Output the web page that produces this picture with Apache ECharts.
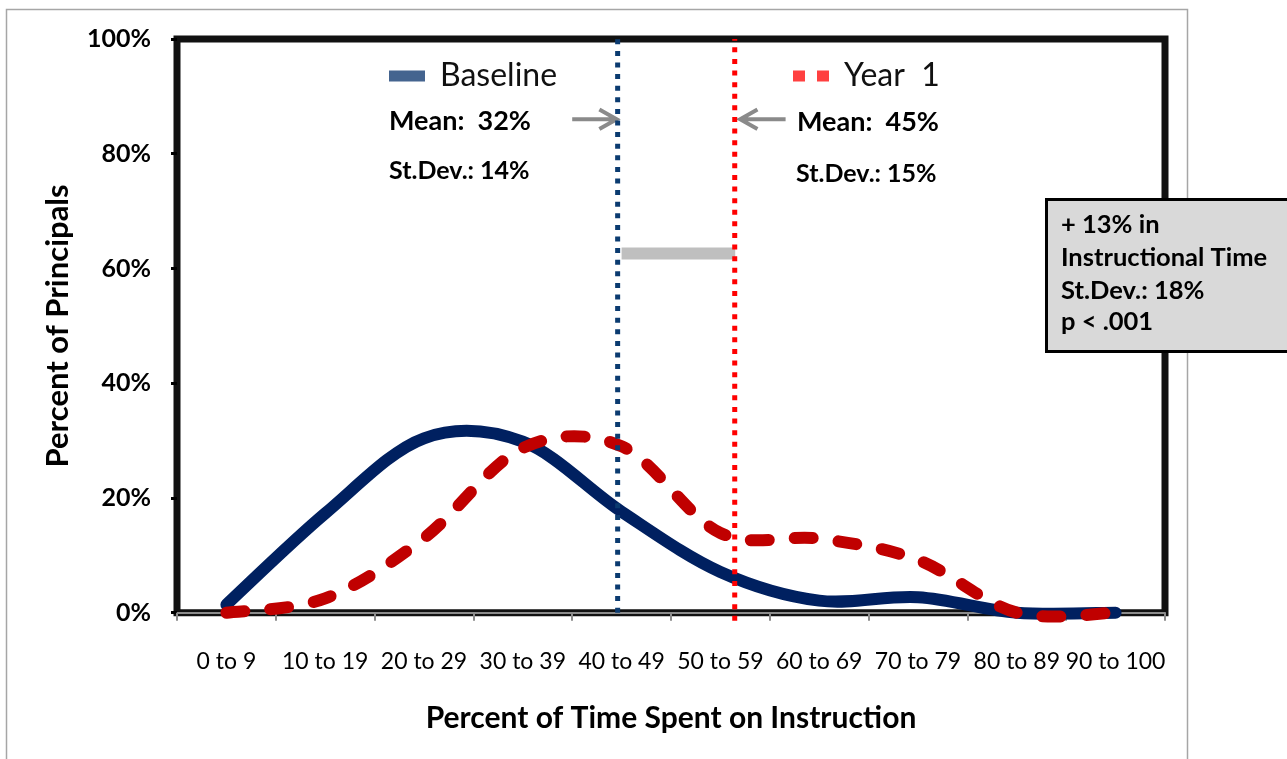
<!DOCTYPE html>
<html>
<head>
<meta charset="utf-8">
<style>
  html, body { margin: 0; padding: 0; background: #fff; }
  #chart { width: 1287px; height: 759px; }
</style>
<script src="https://cdn.jsdelivr.net/npm/echarts@6/dist/echarts.min.js"></script>
</head>
<body>
<div id="chart"></div>
<script>
// ---- data ----
const categories = ['0 to 9', '10 to 19', '20 to 29', '30 to 39', '40 to 49',
                    '50 to 59', '60 to 69', '70 to 79', '80 to 89', '90 to 100'];
const baseline = [1.4, 17.3, 30.4, 29.8, 17.6, 7.1, 2.1, 2.7, 0, 0];
const year1    = [0, 2.5, 13.0, 28.7, 29.0, 13.9, 12.9, 9.2, 0, 0];
const yTicks   = [0, 20, 40, 60, 80, 100];
// annotation anchors on a hidden 0-100 horizontal scale
const meanLinePos = [44.6, 56.45];       // baseline mean line, year 1 mean line
const gapBar      = [45.0, 56.5, 62.6];  // from, to, level
const arrowLevel  = 86;
const arrowLeft   = [40.0, 44.5];        // tail, tip
const arrowRight  = [61.6, 57.0];        // tail, tip

const chart = echarts.init(document.getElementById('chart'), null, { renderer: 'canvas' });

function arrowData(tail, tip, level) {
  const dir = tip > tail ? 1 : -1;
  const back = tip - dir * 1.75;
  return [[tail, level], [tip, level], '-', [back, level + 1.7], [tip, level], [back, level - 1.7]];
}

// Smoothed line (Excel-style cardinal spline) drawn through the axis scales
function smoothRenderer(values, style) {
  return function (params, api) {
    if (params.dataIndex !== 0) return null;
    const p = values.map((v, i) => api.coord([i, v]));
    const n = p.length;
    let d = 'M' + p[0][0] + ',' + p[0][1];
    for (let i = 0; i < n - 1; i++) {
      const p0 = p[Math.max(i - 1, 0)], p1 = p[i], p2 = p[i + 1], p3 = p[Math.min(i + 2, n - 1)];
      const c1x = p1[0] + (p2[0] - p0[0]) / 6, c1y = p1[1] + (p2[1] - p0[1]) / 6;
      const c2x = p2[0] - (p3[0] - p1[0]) / 6, c2y = p2[1] - (p3[1] - p1[1]) / 6;
      d += ' C' + c1x + ',' + c1y + ' ' + c2x + ',' + c2y + ' ' + p2[0] + ',' + p2[1];
    }
    return {
      type: 'path',
      shape: { pathData: d },
      style: Object.assign({ fill: null }, style)
    };
  };
}

const FONT = 'Lato, "Noto Sans", sans-serif';

const option = {
  animation: false,
  backgroundColor: '#ffffff',
  grid: {
    left: 177, top: 39, width: 988, height: 573.7,
    show: true, borderColor: '#111111', borderWidth: 7, backgroundColor: 'transparent'
  },
  legend: [
    {
      left: 389, top: 60, padding: 0, selectedMode: false,
      itemWidth: 36, itemHeight: 11,
      textStyle: { fontFamily: FONT, fontSize: 32, color: '#111', padding: [0, 0, 0, 10] },
      data: [{ name: 'Baseline', icon: 'rect', itemStyle: { color: '#44648f' } }]
    },
    {
      left: 793, top: 60, padding: 0, selectedMode: false,
      itemWidth: 36, itemHeight: 11,
      textStyle: { fontFamily: FONT, fontSize: 32, color: '#111', padding: [0, 0, 0, 10] },
      data: [{ name: 'Year  1', icon: 'path://M0,0H12V11H0Z M24,0H36V11H24Z', itemStyle: { color: '#ff4040' } }]
    }
  ],
  xAxis: [
    {
      type: 'category', data: categories, boundaryGap: true, offset: 4,
      axisLine: { show: true, lineStyle: { color: '#8c8c8c', width: 2 } },
      axisTick: { show: true, length: 8, lineStyle: { color: '#8c8c8c', width: 2 } },
      axisLabel: { fontFamily: FONT, fontSize: 23, color: '#000', margin: 33, interval: 0 },
      splitLine: { show: false },
      name: 'Percent of Time Spent on Instruction', nameLocation: 'middle', nameGap: 87,
      nameTextStyle: { fontFamily: FONT, fontWeight: 'bold', fontSize: 30, color: '#000' }
    },
    { type: 'value', min: 0, max: 100, show: false }
  ],
  yAxis: {
    type: 'value', min: yTicks[0], max: yTicks[yTicks.length - 1], interval: yTicks[1] - yTicks[0],
    axisLine: { show: false },
    axisTick: { show: true, length: 6, lineStyle: { color: '#000', width: 3 } },
    axisLabel: { formatter: '{value}%', fontFamily: FONT, fontWeight: 'bold', fontSize: 25, color: '#000', margin: 26 },
    splitLine: { show: false },
    name: 'Percent of Principals', nameLocation: 'middle', nameGap: 104,
    nameTextStyle: { fontFamily: FONT, fontWeight: 'bold', fontSize: 31, color: '#000' }
  },
  series: [
    {
      name: 'Baseline', type: 'custom', z: 3, silent: true,
      data: baseline.map((v, i) => [i, v]), encode: { x: 0, y: 1 },
      itemStyle: { color: '#002060' },
      renderItem: smoothRenderer(baseline, { stroke: '#002060', lineWidth: 12, lineCap: 'round', lineJoin: 'round' })
    },
    {
      name: 'Year  1', type: 'custom', z: 3, silent: true,
      data: year1.map((v, i) => [i, v]), encode: { x: 0, y: 1 },
      itemStyle: { color: '#c00000' },
      renderItem: smoothRenderer(year1, { stroke: '#c00000', lineWidth: 12, lineCap: 'round', lineJoin: 'round', lineDash: [18, 26] })
    },
    {
      name: 'gap', type: 'line', xAxisIndex: 1, silent: true, symbol: 'none', z: 4,
      data: [[gapBar[0], gapBar[2]], [gapBar[1], gapBar[2]]],
      lineStyle: { color: '#bfbfbf', width: 12, cap: 'butt' }
    },
    {
      name: 'meanBase', type: 'line', xAxisIndex: 1, silent: true, symbol: 'none', z: 6, clip: false,
      data: [[meanLinePos[0], 0], [meanLinePos[0], 100]],
      lineStyle: { color: '#0b3b70', width: 5, type: [5, 6.6], cap: 'butt' }
    },
    {
      name: 'meanYear1', type: 'line', xAxisIndex: 1, silent: true, symbol: 'none', z: 6, clip: false,
      data: [[meanLinePos[1], -1.4], [meanLinePos[1], 100]],
      lineStyle: { color: '#ff0000', width: 5, type: [5, 6.6], cap: 'butt' }
    },
    {
      name: 'arrowL', type: 'line', xAxisIndex: 1, silent: true, symbol: 'none', z: 5, connectNulls: false,
      data: arrowData(arrowLeft[0], arrowLeft[1], arrowLevel),
      lineStyle: { color: '#8a8a8a', width: 4, cap: 'butt', join: 'miter' }
    },
    {
      name: 'arrowR', type: 'line', xAxisIndex: 1, silent: true, symbol: 'none', z: 5, connectNulls: false,
      data: arrowData(arrowRight[0], arrowRight[1], arrowLevel),
      lineStyle: { color: '#8a8a8a', width: 4, cap: 'butt', join: 'miter' }
    }
  ],
  graphic: [
    { type: 'rect', z: -10, silent: true, shape: { x: 6.5, y: 9.5, width: 1181, height: 800 },
      style: { fill: 'none', stroke: '#a6a6a6', lineWidth: 1.5 } },
    { type: 'text', x: 389, y: 121, silent: true,
      style: { text: 'Mean:  32%', font: 'bold 27px ' + FONT, fill: '#000', verticalAlign: 'middle' } },
    { type: 'text', x: 389, y: 171, silent: true,
      style: { text: 'St.Dev.: 14%', font: 'bold 25px ' + FONT, fill: '#000', verticalAlign: 'middle' } },
    { type: 'text', x: 797, y: 122.5, silent: true,
      style: { text: 'Mean:  45%', font: 'bold 27px ' + FONT, fill: '#000', verticalAlign: 'middle' } },
    { type: 'text', x: 796, y: 173.5, silent: true,
      style: { text: 'St.Dev.: 15%', font: 'bold 25px ' + FONT, fill: '#000', verticalAlign: 'middle' } },
    { type: 'rect', z: 20, silent: true, shape: { x: 1046.5, y: 199.5, width: 245, height: 152 },
      style: { fill: '#d9d9d9', stroke: '#000', lineWidth: 3 } },
    { type: 'text', z: 21, x: 1061, y: 225, silent: true,
      style: { text: '+ 13% in', font: 'bold 25.5px ' + FONT, fill: '#000', verticalAlign: 'middle' } },
    { type: 'text', z: 21, x: 1061, y: 258, silent: true,
      style: { text: 'Instructional Time', font: 'bold 25.5px ' + FONT, fill: '#000', verticalAlign: 'middle' } },
    { type: 'text', z: 21, x: 1061, y: 291, silent: true,
      style: { text: 'St.Dev.: 18%', font: 'bold 25.5px ' + FONT, fill: '#000', verticalAlign: 'middle' } },
    { type: 'text', z: 21, x: 1061, y: 322, silent: true,
      style: { text: 'p < .001', font: 'bold 25.5px ' + FONT, fill: '#000', verticalAlign: 'middle' } }
  ]
};

chart.setOption(option);
</script>
</body>
</html>
